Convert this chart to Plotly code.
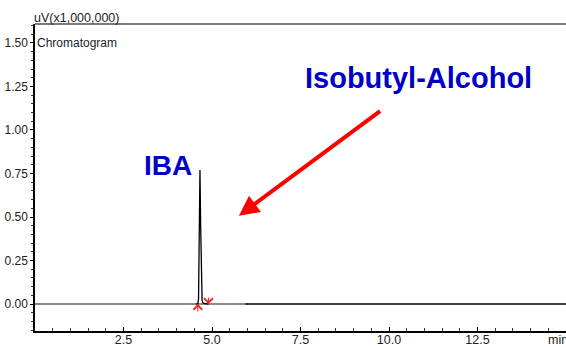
import plotly.graph_objects as go

# Chromatogram: retention time (min) vs detector signal (uV x 1,000,000)
peak_time = [4.55, 4.60, 4.62, 4.64, 4.66, 4.68, 4.70, 4.72, 4.74, 4.78, 4.85, 4.90]
peak_signal = [0.0, 0.002, 0.03, 0.35, 0.77, 0.45, 0.08, 0.02, 0.008, 0.003, 0.001, 0.0]
tail_time = [5.95, 15.0]
tail_signal = [0.0, 0.0]
base_time = [0.0, 6.0]
base_signal = [0.0, 0.0]

peak_start = 4.60
peak_end = 4.90

x_ticks = [2.5, 5.0, 7.5, 10.0, 12.5]
x_ticktext = ["2.5", "5.0", "7.5", "10.0", "12.5"]
y_ticks = [0.0, 0.25, 0.5, 0.75, 1.0, 1.25, 1.5]
y_ticktext = ["0.00", "0.25", "0.50", "0.75", "1.00", "1.25", "1.50"]

font_family = "Liberation Sans, Arial, sans-serif"

fig = go.Figure()
fig.add_trace(go.Scatter(x=base_time, y=base_signal, mode="lines",
                         line=dict(color="#8a8a8a", width=2), hoverinfo="skip"))
fig.add_trace(go.Scatter(x=peak_time + [None] + tail_time,
                         y=peak_signal + [None] + tail_signal,
                         mode="lines", line=dict(color="black", width=1.3),
                         connectgaps=False))

annotations = [
    dict(text="uV(x1,000,000)", xref="paper", yref="paper", x=-0.005, y=1.0,
         xanchor="left", yanchor="bottom", showarrow=False,
         font=dict(size=12.5, color="#222", family=font_family), yshift=-3),
    dict(text="Chromatogram", xref="paper", yref="y", x=0.0, y=1.5,
         xanchor="left", yanchor="middle", showarrow=False,
         font=dict(size=12, color="#222", family=font_family)),
    dict(text="min", xref="paper", yref="paper", x=0.985, y=0.0,
         xanchor="center", yanchor="top", showarrow=False, yshift=0,
         font=dict(size=12.5, color="#222", family=font_family)),
    dict(text="<b>IBA</b>", x=3.75, y=0.795, xanchor="center", yanchor="middle",
         showarrow=False, font=dict(size=28, color="#0000c8", family=font_family)),
    dict(text="<b>Isobutyl-Alcohol</b>", x=10.82, y=1.30, xanchor="center",
         yanchor="middle", showarrow=False,
         font=dict(size=29, color="#0000c8", family=font_family)),
    # red pointer toward the peak
    dict(x=5.76, y=0.507, ax=9.79, ay=1.115, axref="x", ayref="y",
         showarrow=True, arrowhead=2, arrowsize=1.0, arrowwidth=4,
         arrowcolor="#ff0000", text=""),
    # integration start / end marks
    dict(x=peak_start, y=0.0, ax=0, ay=9, showarrow=True, arrowhead=4,
         arrowsize=1.7, arrowwidth=1, arrowcolor="#ff2020", text=""),
    dict(x=peak_end, y=0.0, ax=0, ay=-8, showarrow=True, arrowhead=4,
         arrowsize=1.7, arrowwidth=1, arrowcolor="#ff2020", text=""),
]

fig.update_layout(
    width=566, height=347,
    margin=dict(l=35, r=0, t=24, b=16),
    paper_bgcolor="white", plot_bgcolor="white",
    showlegend=False,
    font=dict(family=font_family, size=12, color="#222"),
    annotations=annotations,
    shapes=[dict(type="line", xref="paper", yref="paper", x0=0, x1=1, y0=1, y1=1,
                 line=dict(color="#7a7a7a", width=2))],
    xaxis=dict(range=[0, 15], tickvals=x_ticks, ticktext=x_ticktext,
               automargin=False, ticklabelstandoff=-4,
               showgrid=False, zeroline=False, showline=True,
               linecolor="black", linewidth=1.5,
               ticks="inside", ticklen=4, tickcolor="black",
               minor=dict(dtick=0.5, ticks="inside", ticklen=3, tickcolor="#333"),
               tickfont=dict(size=12.5, color="#222")),
    yaxis=dict(range=[-0.155, 1.609], tickvals=y_ticks, ticktext=y_ticktext,
               automargin=False,
               showgrid=False, zeroline=False, showline=True,
               linecolor="black", linewidth=1.5,
               ticks="outside", ticklen=3, tickcolor="black",
               minor=dict(dtick=0.05, ticks="outside", ticklen=2, tickcolor="#333"),
               tickfont=dict(size=12, color="#222")),
)

fig.write_html("out.html")
